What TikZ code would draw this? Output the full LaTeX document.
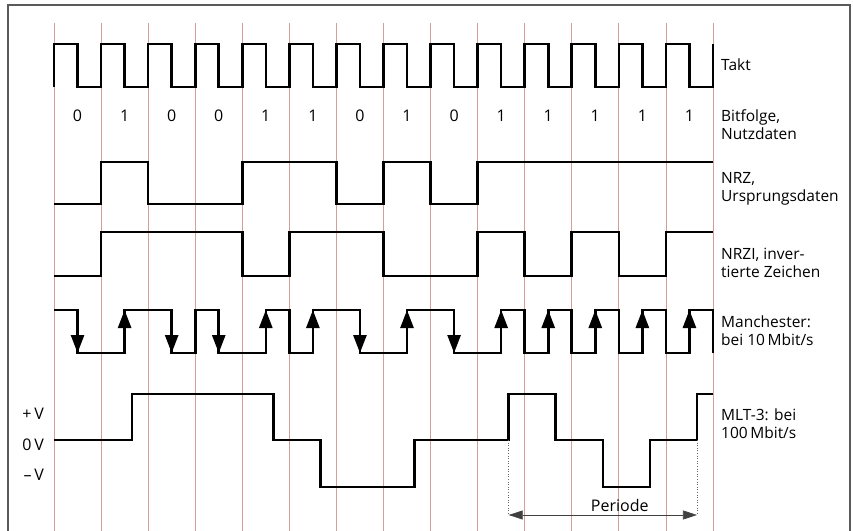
\documentclass[tikz,border=0pt]{standalone}
\usepackage{fontspec}
\setmainfont{Open Sans}
\usepackage{tikz}
\usetikzlibrary{arrows.meta, positioning}

\definecolor{gridred}{RGB}{210,160,150}
\definecolor{framegray}{RGB}{90,90,90}

\begin{document}
\begin{tikzpicture}[
    x=47.07pt, y=-1pt,
    signal/.style={line width=2.6pt, line join=miter, black},
    gridline/.style={gridred, line width=0.7pt},
    frame/.style={framegray, line width=1.4pt},
    lbl/.style={anchor=west, align=left, inner sep=0pt, font=\fontsize{15.5}{18}\selectfont},
    txt/.style={inner sep=0pt, font=\fontsize{16}{18}\selectfont},
    flank/.style={-{Triangle[width=13pt,length=18pt]}, line width=2.6pt},
    span/.style={{Triangle[width=9pt,length=14pt]}-{Triangle[width=9pt,length=14pt]}, line width=0.6pt, black!75},
    guide/.style={dotted, line width=0.6pt, black!60}
]
    \useasboundingbox (-1.1472,0) rectangle (16.975,531);
    \draw[frame] (-0.977,531) |- (16.911,5) -- (16.911,531);

    % Raster
    \foreach \i in {0,...,14}
        \draw[gridline] (\i,23) -- (\i,531);

    % Takt
    \draw[signal] (0,87) foreach \i in {0,...,13} { -- (\i,44) -- (\i+0.5,44) -- (\i+0.5,87) -- (\i+1,87) } -- (14,44);

    % Bitfolge
    \foreach \b [count=\i from 0] in {0,1,0,0,1,1,0,1,0,1,1,1,1,1}
        \node (bit\i) [txt] at (\i+0.5,116) {\b};

    % NRZ
    \draw[signal] (0,204) -- (1,204) -- (1,162) -- (2,162) -- (2,204) -- (4,204) -- (4,162) -- (6,162) -- (6,204)
        -- (7,204) -- (7,162) -- (8,162) -- (8,204) -- (9,204) -- (9,162) -- (14,162);

    % NRZI
    \draw[signal] (0,276) -- (1,276) -- (1,232) -- (4,232) -- (4,276) -- (5,276) -- (5,232) -- (7,232) -- (7,276)
        -- (9,276) -- (9,232) -- (10,232) -- (10,276) -- (11,276) -- (11,232) -- (12,232) -- (12,276)
        -- (13,276) -- (13,232) -- (14,232);

    % Manchester
    \draw[signal] (0,310) foreach \b [count=\i from 0] in {0,1,0,0,1,1,0,1,0,1,1,1,1,1}
        { -- (\i,{310+43*\b}) -- (\i+0.5,{310+43*\b}) -- (\i+0.5,{353-43*\b}) -- (\i+1,{353-43*\b}) } -- (14,353);
    \foreach \b [count=\i from 0] in {0,1,0,0,1,1,0,1,0,1,1,1,1,1}
        \draw[flank] (\i+0.5,{310+43*\b}) -- (\i+0.5,{353-43*\b});

    % MLT-3
    \draw[signal] (0,440) -- (1.66,440) -- (1.66,394) -- (4.66,394) -- (4.66,440) -- (5.66,440) -- (5.66,487)
        -- (7.66,487) -- (7.66,440) -- (9.66,440) -- (9.66,394) -- (10.66,394) -- (10.66,440) -- (11.66,440)
        -- (11.66,487) -- (12.66,487) -- (12.66,440) -- (13.66,440) -- (13.66,394) -- (14,394);

    \node (vplus) [txt, anchor=east] at (-0.212,414) {+\,V};
    \node (vnull) [txt, anchor=east] at (-0.212,445) {0\,V};
    \node (vminus) [txt, anchor=east] at (-0.212,475) {–\,V};

    % Periode
    \coordinate (p0) at (9.66,440);
    \coordinate (p1) at (13.66,440);
    \coordinate (q0) at (9.66,515);
    \coordinate (q1) at (13.66,515);
    \draw[guide] (p0) -- (q0);
    \draw[guide] (p1) -- (q1);
    \draw[span] (q0) -- (q1);
    \node (periode) [txt] at (12.02,505) {Periode};

    % Beschriftung rechts
    \node (takt) [lbl] at (14.17,65) {Takt};
    \node (bitfolge) [lbl] at (14.17,125) {Bitfolge,\\Nutzdaten};
    \node (nrz) [lbl] at (14.17,189) {NRZ,\\Ursprungsdaten};
    \node (nrzi) [lbl] at (14.17,263) {NRZI, inver-\\tierte Zeichen};
    \node (manch) [lbl] at (14.17,331) {Manchester:\\bei 10\,Mbit/s};
    \node (mlt) [lbl] at (14.17,424) {MLT-3: bei\\100\,Mbit/s};
\end{tikzpicture}
\end{document}
